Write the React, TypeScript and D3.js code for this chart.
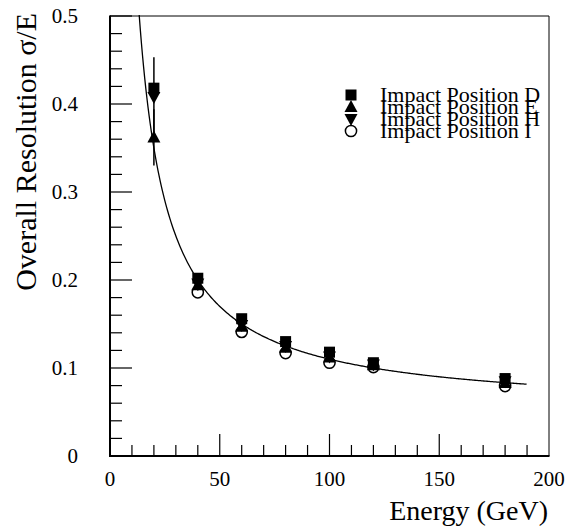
import React from "react";
import * as d3 from "d3";

const energies = [20, 40, 60, 80, 100, 120, 180];
const posD = [0.418, 0.202, 0.156, 0.130, 0.118, 0.106, 0.088];
const posE = [0.362, 0.194, 0.147, 0.123, 0.112, 0.103, 0.083];
const posH = [0.408, 0.196, 0.149, 0.125, 0.113, 0.104, 0.085];
const energiesI = [40, 60, 80, 100, 120, 180];
const posI = [0.186, 0.141, 0.117, 0.106, 0.101, 0.0795];
const errE = [0.032, 0.006, 0.005, 0.004, 0.004, 0.004, 0.003];
const errH = [0.045, 0.006, 0.005, 0.004, 0.004, 0.004, 0.003];
const fitA = 6.0;
const fitB = 0.05;
const fitRange = [13.3, 190];
const legendLabels = ["Impact Position D", "Impact Position E", "Impact Position H", "Impact Position I"];
const xTicks = [0, 50, 100, 150, 200];
const yTicks = [0, 0.1, 0.2, 0.3, 0.4, 0.5];

const W = 572, H = 526;
const L = 110, R = 549, T = 16, B = 456;
const FONT = "'Liberation Serif', 'Times New Roman', serif";

export default function App() {
  const x = d3.scaleLinear().domain([0, 200]).range([L, R]);
  const y = d3.scaleLinear().domain([0, 0.5]).range([B, T]);

  const fitPts = d3.range(fitRange[0], fitRange[1] + 0.01, 0.5).map((e) => [e, fitA / e + fitB] as [number, number]);
  const line = d3.line<[number, number]>().x((d) => x(d[0])).y((d) => y(d[1]));

  const yMinor = d3.range(0, 0.5001, 0.02);
  const xMinor = d3.range(10, 200, 10);

  const sq = (cx: number, cy: number, k: string) => (
    <rect key={k} x={cx - 5.5} y={cy - 5.5} width={11} height={11} fill="#000" />
  );
  const triUp = (cx: number, cy: number, k: string) => (
    <path key={k} d={`M${cx},${cy - 7}L${cx + 6.5},${cy + 5}L${cx - 6.5},${cy + 5}Z`} fill="#000" />
  );
  const triDown = (cx: number, cy: number, k: string) => (
    <path key={k} d={`M${cx},${cy + 7}L${cx + 6.5},${cy - 5}L${cx - 6.5},${cy - 5}Z`} fill="#000" />
  );
  const circ = (cx: number, cy: number, k: string) => (
    <circle key={k} cx={cx} cy={cy} r={5.6} fill="none" stroke="#000" strokeWidth={1.5} />
  );
  const markers = [sq, triUp, triDown, circ];

  return (
    <svg width={W} height={H} style={{ position: "absolute", left: 0, top: 0, background: "#fff" }} fontFamily={FONT}>
      <rect x={0} y={0} width={W} height={H} fill="#fff" />
      {/* frame */}
      <line x1={L} y1={T} x2={R} y2={T} stroke="#000" strokeWidth={1} />
      <line x1={R} y1={T} x2={R} y2={B} stroke="#000" strokeWidth={1} />
      <line x1={L} y1={T - 0.5} x2={L} y2={B + 1} stroke="#000" strokeWidth={2} />
      <line x1={L - 1} y1={B} x2={R + 0.5} y2={B} stroke="#000" strokeWidth={2} />
      {/* y ticks */}
      {yMinor.map((v, i) => {
        const major = i % 5 === 0;
        return <line key={"yt" + i} x1={L} x2={L + (major ? 22 : 12)} y1={y(v)} y2={y(v)} stroke="#000" strokeWidth={1.2} />;
      })}
      {xMinor.map((v, i) => {
        const major = v % 50 === 0;
        return <line key={"xt" + i} x1={x(v)} x2={x(v)} y1={B} y2={B - (major ? 22 : 11)} stroke="#000" strokeWidth={1.2} />;
      })}
      {yTicks.map((v) => (
        <text key={"yl" + v} x={78} y={y(v)} dy="0.35em" textAnchor="end" fontSize={21}>
          {v === 0 ? "0" : d3.format(".1f")(v)}
        </text>
      ))}
      {xTicks.map((v) => (
        <text key={"xl" + v} x={x(v)} y={479} dy="0.35em" textAnchor="middle" fontSize={21}>
          {v}
        </text>
      ))}
      <text x={548} y={520} textAnchor="end" fontSize={28}>Energy (GeV)</text>
      <text transform="translate(36,13) rotate(-90)" textAnchor="end" fontSize={30}>Overall Resolution σ/E</text>
      {/* error bars */}
      {energies.map((e, i) => (
        <g key={"eb" + i}>
          <line x1={x(e)} x2={x(e)} y1={y(posE[i] - errE[i])} y2={y(posE[i] + errE[i])} stroke="#000" strokeWidth={1.5} />
          <line x1={x(e)} x2={x(e)} y1={y(posH[i] - errH[i])} y2={y(posH[i] + errH[i])} stroke="#000" strokeWidth={1.5} />
        </g>
      ))}
      {energiesI.map((e, i) => circ(x(e), y(posI[i]), "pi" + i))}
      {energies.map((e, i) => triUp(x(e), y(posE[i]), "pe" + i))}
      {energies.map((e, i) => triDown(x(e), y(posH[i]), "ph" + i))}
      {energies.map((e, i) => sq(x(e), y(posD[i]), "pd" + i))}
      <path d={line(fitPts) || ""} fill="none" stroke="#000" strokeWidth={1.3} />
      {/* legend */}
      {legendLabels.map((lab, i) => {
        const cy = 95 + i * 12;
        return (
          <g key={"lg" + i}>
            {markers[i](351, cy, "lm" + i)}
            <text x={380} y={cy + 7} fontSize={22}>{lab}</text>
          </g>
        );
      })}
    </svg>
  );
}
